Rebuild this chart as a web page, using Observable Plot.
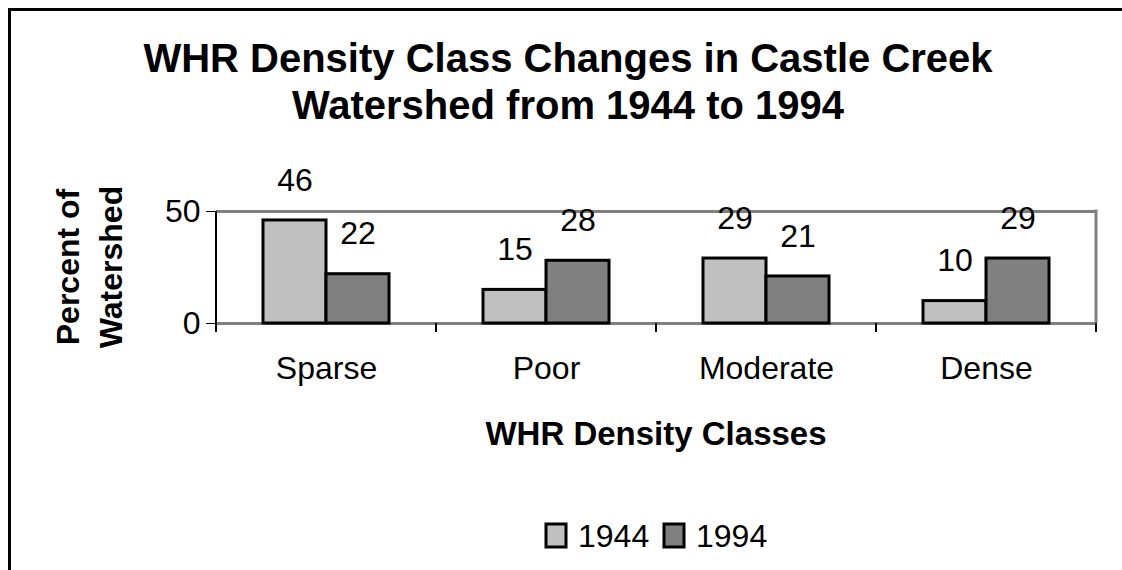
<!DOCTYPE html>
<html>
<head>
<meta charset="utf-8">
<script src="https://cdn.jsdelivr.net/npm/d3@7"></script>
<script src="https://cdn.jsdelivr.net/npm/@observablehq/plot@0.6"></script>
<style>
  html, body { margin: 0; padding: 0; background: #fff; }
  #wrap { position: relative; width: 1122px; height: 570px; overflow: hidden; background: #fff; }
  #border { position: absolute; left: 8px; top: 8px; width: 1130px; height: 580px;
            border-top: 3px solid #000; border-left: 3px solid #000; pointer-events: none; }
</style>
</head>
<body>
<div id="wrap"><div id="border"></div></div>
<script>
// ---- data ----
const categories = ["Sparse", "Poor", "Moderate", "Dense"];
const years = ["1944", "1994"];
const values1944 = [46, 15, 29, 10];
const values1994 = [22, 28, 21, 29];
const yTicks = [0, 50];
const titleLines = ["WHR Density Class Changes in Castle Creek", "Watershed from 1944 to 1994"];
const xTitle = "WHR Density Classes";
const yTitleLines = ["Percent of", "Watershed"];
const colors = ["#c0c0c0", "#808080"];

const data = [];
categories.forEach((c, i) => {
  data.push({cat: c, year: years[0], value: values1944[i]});
  data.push({cat: c, year: years[1], value: values1994[i]});
});

const FONT = "'Liberation Sans', Arial, Helvetica, sans-serif";

const chart = Plot.plot({
  width: 1122,
  height: 570,
  marginLeft: 216,
  marginRight: 26,
  marginTop: 211,
  marginBottom: 247,
  style: {fontFamily: FONT, fontSize: "32px", background: "transparent", color: "#000", overflow: "visible"},
  fx: {domain: categories, padding: 0, label: null},
  x: {domain: years, paddingInner: 0, paddingOuter: 0.73, axis: null},
  y: {domain: [0, 50], axis: null},
  color: {domain: years, range: colors},
  marks: [
    Plot.ruleY([50], {stroke: "#808080", strokeWidth: 3}),
    Plot.ruleY([0], {stroke: "#808080", strokeWidth: 3}),
    Plot.barY(data, {fx: "cat", x: "year", y: "value", fill: "year", stroke: "#000", strokeWidth: 3}),
    Plot.text(data, {fx: "cat", x: "year", y: "value", text: d => String(d.value), dy: -40, fontSize: 32, fill: "#000"}),
    Plot.axisFx({anchor: "bottom", tickSize: 0, tickPadding: 33, fontSize: 32, label: null}),
    Plot.axisY({ticks: yTicks, tickSize: 10, tickPadding: 6, fontSize: 32, label: null, tickFormat: d => String(d)})
  ]
});

document.getElementById("wrap").prepend(chart);
chart.style.position = "absolute";
chart.style.left = "0px";
chart.style.top = "0px";

const svg = d3.select(chart);
const fx = chart.scale("fx");
const y = chart.scale("y");
const bw = fx.bandwidth;
const left = fx.apply(categories[0]);
const right = fx.apply(categories[categories.length - 1]) + bw;
const y0 = y.apply(0), y50 = y.apply(50);

// right frame line
svg.append("line").attr("x1", right).attr("x2", right).attr("y1", y50 - 1.5).attr("y2", y0)
  .attr("stroke", "#808080").attr("stroke-width", 3);
// left axis line
svg.append("line").attr("x1", left).attr("x2", left).attr("y1", y50).attr("y2", y0 + 9)
  .attr("stroke", "#000").attr("stroke-width", 2);
// category boundary ticks
const bounds = categories.map(c => fx.apply(c)).concat([right]);
svg.append("g").selectAll("line").data(bounds).join("line")
  .attr("x1", d => d).attr("x2", d => d).attr("y1", y0).attr("y2", y0 + 9)
  .attr("stroke", "#000").attr("stroke-width", 2);

// title
const tg = svg.append("g").attr("font-family", FONT).attr("font-weight", "bold").attr("font-size", 40).attr("text-anchor", "middle");
titleLines.forEach((t, i) => tg.append("text").attr("x", 568).attr("y", 72 + i * 47).text(t));

// x axis title
svg.append("text").attr("x", (left + right) / 2).attr("y", 445).attr("text-anchor", "middle")
  .attr("font-family", FONT).attr("font-weight", "bold").attr("font-size", 33).text(xTitle);

// y axis title
const yg = svg.append("g").attr("transform", `translate(0,${(y0 + y50) / 2}) rotate(-90)`)
  .attr("font-family", FONT).attr("font-weight", "bold").attr("font-size", 32).attr("text-anchor", "middle");
yTitleLines.forEach((t, i) => yg.append("text").attr("x", 0).attr("y", 79 + i * 43).text(t));

// legend
const lg = svg.append("g").attr("font-family", FONT).attr("font-size", 32).attr("text-anchor", "start");
const legendX = [546, 664];
years.forEach((yr, i) => {
  lg.append("rect").attr("x", legendX[i]).attr("y", 524).attr("width", 20).attr("height", 23)
    .attr("fill", colors[i]).attr("stroke", "#000").attr("stroke-width", 3);
  lg.append("text").attr("x", legendX[i] + 32).attr("y", 547).text(yr);
});
</script>
</body>
</html>
